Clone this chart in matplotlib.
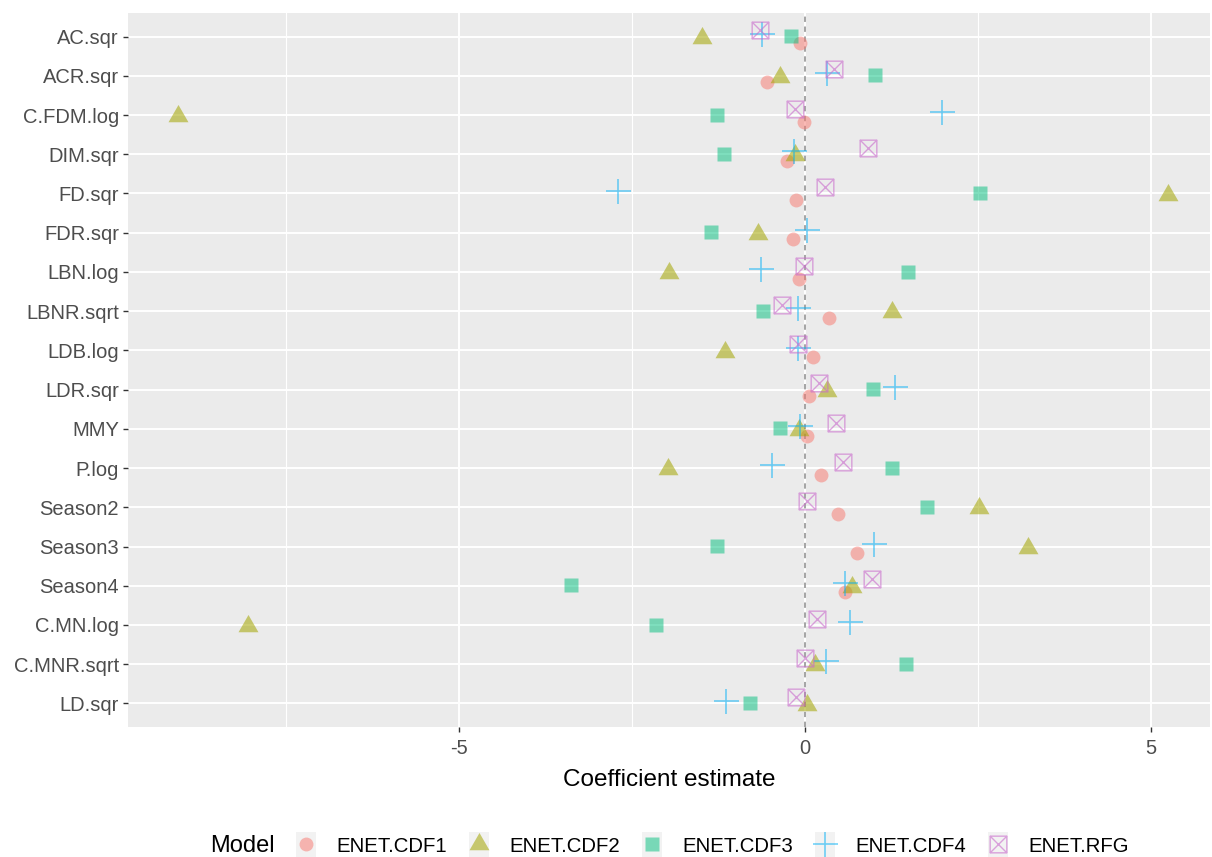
import numpy as np
import matplotlib
matplotlib.use("Agg")
import matplotlib.pyplot as plt
from matplotlib.path import Path
from matplotlib.lines import Line2D
from matplotlib.patches import Rectangle
from matplotlib.legend_handler import HandlerLine2D

plt.rcParams['font.family'] = ['Liberation Sans', 'DejaVu Sans']

nan = np.nan
variables = ["AC.sqr", "ACR.sqr", "C.FDM.log", "DIM.sqr", "FD.sqr", "FDR.sqr",
             "LBN.log", "LBNR.sqrt", "LDB.log", "LDR.sqr", "MMY", "P.log",
             "Season2", "Season3", "Season4", "C.MN.log", "C.MNR.sqrt", "LD.sqr"]

models = ["ENET.CDF1", "ENET.CDF2", "ENET.CDF3", "ENET.CDF4", "ENET.RFG"]

cdf1 = [-0.07, -0.55, -0.02, -0.26, -0.14, -0.18, -0.09, 0.34, 0.11, 0.05,
        0.03, 0.22, 0.47, 0.75, 0.58, nan, nan, nan]
cdf2 = [-1.50, -0.36, -9.07, -0.15, 5.24, -0.69, -1.97, 1.25, -1.16, 0.31,
        -0.09, -1.98, 2.51, 3.22, 0.67, -8.05, 0.14, 0.02]
cdf3 = [-0.21, 1.01, -1.27, -1.18, 2.53, -1.37, 1.49, -0.61, nan, 0.98,
        -0.37, 1.25, 1.76, -1.27, -3.39, -2.16, 1.45, -0.80]
cdf4 = [-0.62, 0.32, 1.98, -0.17, -2.70, 0.02, -0.64, -0.11, -0.11, 1.30,
        -0.07, -0.48, nan, 0.99, 0.58, 0.64, 0.30, -1.15]
rfg = [-0.66, 0.42, -0.15, 0.91, 0.29, nan, -0.02, -0.33, -0.10, 0.20,
       0.45, 0.55, 0.03, nan, 0.96, 0.17, 0.00, -0.14]

series = [cdf1, cdf2, cdf3, cdf4, rfg]

# custom markers (R-like triangle and square-cross)
tri = Path([(0, 1), (-0.866, -0.5), (0.866, -0.5), (0, 1)],
           [Path.MOVETO, Path.LINETO, Path.LINETO, Path.CLOSEPOLY])
sqx = Path([(-1, -1), (1, -1), (1, 1), (-1, 1), (-1, -1),
            (-1, -1), (1, 1), (-1, 1), (1, -1)],
           [Path.MOVETO, Path.LINETO, Path.LINETO, Path.LINETO, Path.CLOSEPOLY,
            Path.MOVETO, Path.LINETO, Path.MOVETO, Path.LINETO])

styles = [
    dict(marker='o', ms=10, mfc='#F8766D', mec='none', alpha=0.5),
    dict(marker=tri, ms=16.6, mfc='#A3A500', mec='none', alpha=0.55),
    dict(marker='s', ms=10.5, mfc='#00BF7D', mec='none', alpha=0.5),
    dict(marker='+', ms=18, mec='#00B0F6', mew=1.2, alpha=0.55),
    dict(marker=sqx, ms=12, mfc='none', mec='#C96ACC', mew=1.0, alpha=0.6),
]
offsets = [0.17, 0.03, -0.01, -0.07, -0.16]

fig = plt.figure(figsize=(12.12, 8.57), dpi=100)
ax = fig.add_axes([128 / 1212, 1 - 727 / 857, (1210 - 128) / 1212, (727 - 13) / 857])
ax.set_facecolor('#EBEBEB')
for s in ax.spines.values():
    s.set_visible(False)

ypos = np.arange(len(variables))
for i, (vals, st) in enumerate(zip(series, styles)):
    ax.plot(vals, ypos + offsets[i], ls='none', zorder=3 + i, **st)

ax.axvline(0, color='#8C8C8C', lw=1.1, ls=(0, (3.5, 3)), zorder=2.5)

ax.set_xlim(-9.79, 5.85)
ax.set_ylim(len(variables) - 1 + 0.6, -0.6)
ax.set_xticks([-5, 0, 5])
ax.set_xticklabels(['-5', '0', '5'])
ax.set_xticks([-7.5, -2.5, 2.5], minor=True)
ax.set_yticks(ypos)
ax.set_yticklabels(variables)
ax.grid(True, which='major', color='white', lw=1.4, zorder=1)
ax.grid(True, which='minor', axis='x', color='white', lw=0.8, zorder=1)
ax.set_axisbelow(True)
ax.tick_params(axis='both', which='major', length=3.5, width=1, color='#333333',
               labelsize=14.5, labelcolor='#4D4D4D', pad=3)
ax.tick_params(axis='x', pad=5)
ax.tick_params(axis='x', which='minor', length=0)
ax.set_xlabel('Coefficient estimate', fontsize=17.5, labelpad=8)


class KeyBox(HandlerLine2D):
    def create_artists(self, legend, orig_handle, xdescent, ydescent, width,
                       height, fontsize, trans):
        arts = super().create_artists(legend, orig_handle, xdescent, ydescent,
                                      width, height, fontsize, trans)
        box = Rectangle((-xdescent, -ydescent - 0.2 * height), width, height * 1.4,
                        facecolor='#F2F2F2', edgecolor='none', transform=trans)
        return [box] + arts


handles = [Line2D([], [], ls='none', **st) for st in styles]
fig.legend(handles, models, loc='center left', bbox_to_anchor=(296 / 1212, 1 - 846 / 857),
           ncol=5, frameon=False, fontsize=14.7, handlelength=1.0, handleheight=1.0,
           handletextpad=1.0, columnspacing=1.05, borderpad=0, borderaxespad=0,
           numpoints=1, handler_map={Line2D: KeyBox()})
fig.text(210 / 1212, 1 - 846 / 857, 'Model', fontsize=17, va='center', ha='left')

fig.savefig('out.png', dpi=100)
